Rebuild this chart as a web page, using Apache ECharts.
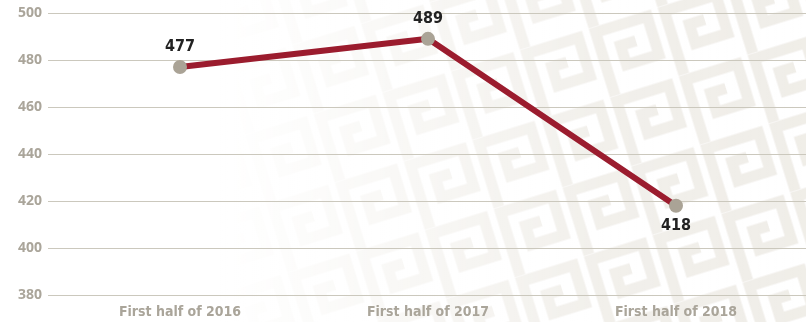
<!DOCTYPE html>
<html>
<head>
<meta charset="utf-8">
<script src="https://cdn.jsdelivr.net/npm/echarts@6/dist/echarts.min.js"></script>
<style>
  html, body { margin: 0; padding: 0; background: #fff; }
  #wrap { position: relative; width: 806px; height: 322px; overflow: hidden; }
  #bg, #fade, #chart { position: absolute; left: 0; top: 0; width: 806px; height: 322px; }
  #fade { background: linear-gradient(to right, #fff 0px, #fff 220px, rgba(255,255,255,0.65) 420px, rgba(255,255,255,0.35) 600px, rgba(255,255,255,0.25) 806px); }
</style>
</head>
<body>
<div id="wrap">
  <canvas id="bg" width="806" height="322"></canvas>
  <div id="fade"></div>
  <div id="chart"></div>
</div>
<script>
// Period labels and values
const categories = ['First half of 2016', 'First half of 2017', 'First half of 2018'];
const values = [477, 489, 418];
const yMin = 380, yMax = 500, yStep = 20;

// Decorative meander texture behind the plot
(function drawTexture() {
  const cv = document.getElementById('bg');
  const ctx = cv.getContext('2d');
  const tile = document.createElement('canvas');
  tile.width = 72; tile.height = 72;
  const t = tile.getContext('2d');
  t.strokeStyle = '#ebe8e1';
  t.lineWidth = 11;
  t.lineCap = 'butt';
  t.beginPath();
  t.moveTo(6, 72); t.lineTo(6, 6); t.lineTo(60, 6); t.lineTo(60, 46); t.lineTo(26, 46); t.lineTo(26, 26); t.lineTo(42, 26);
  t.stroke();
  const pat = ctx.createPattern(tile, 'repeat');
  ctx.save();
  ctx.translate(403, 161);
  ctx.rotate(-0.3);
  ctx.fillStyle = pat;
  ctx.fillRect(-700, -700, 1400, 1400);
  ctx.restore();
})();

const chart = echarts.init(document.getElementById('chart'));
const labelFont = '"DejaVu Sans Condensed", "DejaVu Sans", sans-serif';

chart.setOption({
  backgroundColor: 'transparent',
  animation: false,
  grid: [
    { left: 48, right: 0, top: 13, bottom: 27 },
    { left: 56, right: 6, top: 13, bottom: 27 }
  ],
  xAxis: [
    { gridIndex: 0, type: 'category', data: categories, show: false },
    {
      gridIndex: 1, type: 'category', data: categories, boundaryGap: true,
      axisLine: { show: false }, axisTick: { show: false },
      axisLabel: { color: '#aaa59a', fontFamily: labelFont, fontWeight: 'bold', fontSize: 14, margin: 10 }
    }
  ],
  yAxis: [
    {
      gridIndex: 0, type: 'value', min: yMin, max: yMax, interval: yStep,
      axisLine: { show: false }, axisTick: { show: false },
      axisLabel: { color: '#aaa59a', fontFamily: '"Open Sans", sans-serif', fontWeight: 'bold', fontSize: 14, margin: 6 },
      splitLine: { lineStyle: { color: '#cbc8bd', width: 1 } }
    },
    { gridIndex: 1, type: 'value', min: yMin, max: yMax, interval: yStep, show: false, splitLine: { show: false } }
  ],
  series: [{
    type: 'line',
    xAxisIndex: 1, yAxisIndex: 1,
    data: values.map((v, i) => ({
      value: v,
      label: { position: i === 2 ? 'bottom' : 'top' }
    })),
    lineStyle: { color: '#9b1c2e', width: 6 },
    symbol: 'circle', symbolSize: 14,
    itemStyle: { color: '#aaa396', borderWidth: 0 },
    label: {
      show: true, color: '#222', fontFamily: labelFont, fontWeight: 'bold', fontSize: 16, distance: 5
    },
    z: 5
  }]
});
</script>
</body>
</html>
